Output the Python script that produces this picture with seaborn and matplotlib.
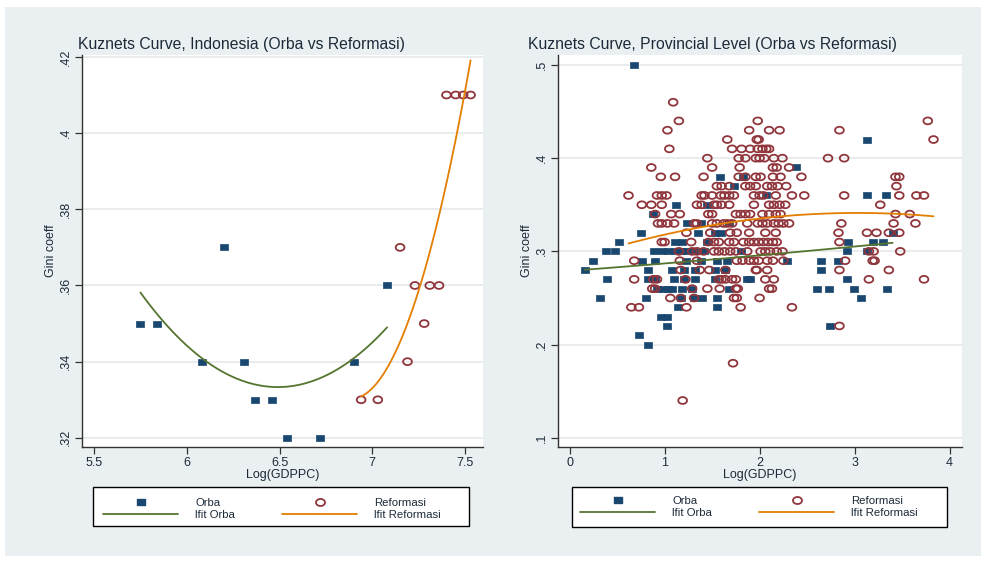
import numpy as np
import pandas as pd
import matplotlib
matplotlib.use("Agg")
import matplotlib.pyplot as plt
from matplotlib.patches import Rectangle
from matplotlib.lines import Line2D
import seaborn as sns

# ---------------- data: national level ----------------
nat_orba_x = [5.75, 5.84, 6.08, 6.20, 6.31, 6.37, 6.46, 6.54, 6.72, 6.90, 7.08]
nat_orba_y = [0.35, 0.35, 0.34, 0.37, 0.34, 0.33, 0.33, 0.32, 0.32, 0.34, 0.36]
nat_ref_x = [6.94, 7.03, 7.15, 7.19, 7.23, 7.28, 7.31, 7.36, 7.40, 7.45, 7.49, 7.53]
nat_ref_y = [0.33, 0.33, 0.37, 0.34, 0.36, 0.35, 0.36, 0.36, 0.41, 0.41, 0.41, 0.41]

# ---------------- data: provincial level (grouped by gini value) ----------------
prov_orba = {
    0.50: [0.68],
    0.42: [3.13],
    0.39: [2.38],
    0.38: [1.58, 1.83],
    0.37: [1.73],
    0.36: [2.07, 3.13, 3.33],
    0.35: [1.12, 1.45],
    0.34: [0.88],
    0.33: [1.24, 1.38, 1.68],
    0.32: [0.75, 1.35, 1.53, 1.59, 3.40],
    0.31: [0.52, 1.11, 1.18, 1.45, 2.93, 3.19, 3.30],
    0.30: [0.38, 0.48, 0.89, 0.97, 1.04, 1.11, 1.18, 1.22, 1.31, 1.41, 1.80, 2.92, 3.13],
    0.29: [0.25, 0.76, 0.90, 1.22, 1.38, 1.55, 1.66, 2.29, 2.65, 2.83],
    0.28: [0.16, 0.83, 1.08, 1.20, 1.32, 1.53, 1.64, 2.65],
    0.27: [0.39, 0.83, 0.90, 1.10, 1.20, 1.32, 1.53, 1.87, 1.90, 2.92],
    0.26: [0.92, 0.98, 1.04, 1.08, 1.18, 1.29, 1.68, 2.60, 2.73, 2.99, 3.34],
    0.25: [0.32, 0.80, 1.17, 1.31, 1.39, 1.55, 3.07],
    0.24: [1.14, 1.55],
    0.23: [0.96, 1.03],
    0.22: [1.03, 2.74],
    0.21: [0.73],
    0.20: [0.83],
}
prov_ref = {
    0.46: [1.09],
    0.44: [1.15, 1.98, 3.77],
    0.43: [1.03, 1.89, 2.10, 2.21, 2.84],
    0.42: [1.66, 1.97, 1.99, 3.83],
    0.41: [1.05, 1.71, 1.81, 1.90, 1.98, 2.03, 2.07, 2.10],
    0.40: [1.45, 1.78, 1.85, 1.96, 2.00, 2.05, 2.15, 2.24, 2.72, 2.89],
    0.39: [0.86, 1.50, 1.79, 2.14, 2.18, 2.31],
    0.38: [0.96, 1.11, 1.41, 1.78, 1.85, 1.96, 2.01, 2.14, 2.22, 2.44, 3.43, 3.47],
    0.37: [1.55, 1.60, 1.68, 1.85, 1.90, 1.96, 2.08, 2.13, 2.19, 2.28, 3.44],
    0.36: [0.62, 0.92, 0.97, 1.02, 1.39, 1.42, 1.50, 1.59, 1.63, 1.68, 1.73, 1.94, 2.00,
           2.04, 2.17, 2.34, 2.47, 2.89, 3.47, 3.65, 3.73],
    0.35: [0.76, 0.86, 0.97, 1.34, 1.39, 1.52, 1.55, 1.60, 1.68, 1.94, 2.10, 2.15, 2.21,
           2.27, 3.27],
    0.34: [0.90, 1.07, 1.16, 1.46, 1.50, 1.75, 1.80, 1.85, 1.90, 2.03, 2.10, 2.17, 2.22,
           3.43, 3.58],
    0.33: [0.93, 0.97, 1.03, 1.10, 1.31, 1.34, 1.50, 1.55, 1.62, 1.66, 1.71, 1.87, 1.98,
           2.03, 2.08, 2.15, 2.20, 2.25, 2.31, 2.86, 3.41, 3.64],
    0.32: [1.23, 1.48, 1.69, 1.76, 1.89, 2.06, 2.17, 2.83, 3.13, 3.23, 3.36, 3.47],
    0.31: [0.97, 1.00, 1.28, 1.46, 1.52, 1.57, 1.68, 1.73, 1.83, 1.89, 1.94, 1.99, 2.04,
           2.09, 2.14, 2.18, 2.84],
    0.30: [1.15, 1.29, 1.34, 1.41, 1.52, 1.57, 1.63, 1.69, 1.75, 1.87, 2.01, 2.06, 2.11,
           2.18, 2.24, 3.15, 3.20, 3.48],
    0.29: [0.68, 1.16, 1.34, 1.76, 1.82, 1.89, 1.94, 1.99, 2.08, 2.14, 2.25, 2.90, 3.19, 3.21],
    0.28: [1.17, 1.37, 1.47, 1.64, 1.96, 1.97, 2.08, 2.84, 3.36],
    0.27: [0.68, 0.88, 0.92, 1.22, 1.57, 1.60, 1.64, 1.71, 1.75, 2.06, 2.15, 3.15, 3.73],
    0.26: [0.87, 0.90, 1.29, 1.45, 1.58, 1.75, 1.77, 2.10, 2.13],
    0.25: [1.06, 1.17, 1.31, 1.73, 1.76, 2.00],
    0.24: [0.65, 0.73, 1.23, 1.80, 2.34],
    0.22: [2.84],
    0.18: [1.72],
    0.14: [1.19],
}

left_xticks = [5.5, 6, 6.5, 7, 7.5]
left_xticklabels = ["5.5", "6", "6.5", "7", "7.5"]
left_yticks = [0.32, 0.34, 0.36, 0.38, 0.40, 0.42]
left_yticklabels = [".32", ".34", ".36", ".38", ".4", ".42"]
right_xticks = [0, 1, 2, 3, 4]
right_xticklabels = ["0", "1", "2", "3", "4"]
right_yticks = [0.1, 0.2, 0.3, 0.4, 0.5]
right_yticklabels = [".1", ".2", ".3", ".4", ".5"]

titles = ["Kuznets Curve, Indonesia (Orba vs Reformasi)",
          "Kuznets Curve, Provincial Level (Orba vs Reformasi)"]
labels = ["Orba", "Reformasi", "lfit Orba", "lfit Reformasi"]


def to_df(d):
    xs, ys = [], []
    for g, xl in d.items():
        for x in xl:
            xs.append(x)
            ys.append(g)
    return pd.DataFrame({"x": xs, "y": ys})


nat_orba = pd.DataFrame({"x": nat_orba_x, "y": nat_orba_y})
nat_ref = pd.DataFrame({"x": nat_ref_x, "y": nat_ref_y})
prov_orba_df = to_df(prov_orba)
prov_ref_df = to_df(prov_ref)

# ---------------- style ----------------
sns.set_style("white")
plt.rcParams["font.family"] = ["Liberation Sans", "DejaVu Sans"]

NAVY = "#1a476f"
MAROON = "#90353b"
GREEN = "#55752f"
ORANGE = "#e37e00"
BG = "#eaf0f2"
TXT = "#1c2a38"

sq_marker = [(-1.0, -0.72), (1.0, -0.72), (1.0, 0.72), (-1.0, 0.72), (-1.0, -0.72)]
t = np.linspace(0, 2 * np.pi, 40)
el_marker = list(zip(np.cos(t), 0.78 * np.sin(t)))

W, H = 987, 561
fig = plt.figure(figsize=(W / 100, H / 100), dpi=100)
fig.patch.set_facecolor("white")
fig.patches.append(Rectangle((5 / W, 1 - 556 / H), 976 / W, 549 / H,
                             transform=fig.transFigure, facecolor=BG,
                             edgecolor="none", zorder=-10))

ax1 = fig.add_axes([82 / W, 1 - 447 / H, (483 - 82) / W, (447 - 55) / H])
ax2 = fig.add_axes([558 / W, 1 - 447 / H, (962 - 558) / W, (447 - 55) / H])

# legend geometry (pixels): box x0, x1, y_top, y_bottom, col1 handle x, col2 handle x, row1 y, row2 y
leg_geom = [
    (93, 469, 487, 526, 103, 282, 503, 514),
    (572, 947, 487, 527, 580, 759, 501, 512),
]

panels = [
    (ax1, nat_orba, nat_ref, (5.435, 7.597), (0.3176, 0.4205),
     left_xticks, left_xticklabels, left_yticks, left_yticklabels),
    (ax2, prov_orba_df, prov_ref_df, (-0.122, 4.13), (0.0901, 0.5107),
     right_xticks, right_xticklabels, right_yticks, right_yticklabels),
]

for k, (ax, dfo, dfr, xl, yl, xt, xtl, yt, ytl) in enumerate(panels):
    ax.set_facecolor("white")
    for yv in yt:
        ax.axhline(yv, color="#e6eaec", lw=1.3, zorder=0)
    sns.scatterplot(data=dfo, x="x", y="y", ax=ax, marker=sq_marker, s=36,
                    color=NAVY, edgecolor=NAVY, linewidth=0.5, zorder=3)
    sns.scatterplot(data=dfr, x="x", y="y", ax=ax, marker=el_marker, s=40,
                    facecolor="none", edgecolor=MAROON, linewidth=1.3, zorder=3)
    sns.regplot(data=dfo, x="x", y="y", ax=ax, order=2, scatter=False, ci=None,
                truncate=True, line_kws=dict(color=GREEN, lw=1.3, zorder=4))
    sns.regplot(data=dfr, x="x", y="y", ax=ax, order=2, scatter=False, ci=None,
                truncate=True, line_kws=dict(color=ORANGE, lw=1.3, zorder=4))
    ax.set_xlim(*xl)
    ax.set_ylim(*yl)
    ax.set_xticks(xt)
    ax.set_xticklabels(xtl)
    ax.set_yticks(yt)
    ax.set_yticklabels(ytl, rotation=90, va="center")
    ax.tick_params(axis="both", direction="out", length=5, width=0.9,
                   color="#333333", labelsize=9, labelcolor=TXT, pad=2, left=True, bottom=True)
    for s in ["top", "right"]:
        ax.spines[s].set_visible(False)
    for s in ["left", "bottom"]:
        ax.spines[s].set_color("#333333")
        ax.spines[s].set_linewidth(1.0)
    ax.set_xlabel("Log(GDPPC)", fontsize=9, color=TXT, labelpad=0)
    ax.set_ylabel("Gini coeff", fontsize=9, color=TXT, labelpad=2)

    bx0, bx1, byt, byb, c1, c2, r1, r2 = leg_geom[k]
    fig.patches.append(Rectangle((bx0 / W, 1 - byb / H), (bx1 - bx0) / W, (byb - byt) / H,
                                 transform=fig.transFigure, facecolor="white",
                                 edgecolor="black", linewidth=1.0, zorder=1))
    col_handles = [
        [Line2D([], [], ls="none", marker=sq_marker, markersize=6, color=NAVY),
         Line2D([], [], color=GREEN, lw=1.3)],
        [Line2D([], [], ls="none", marker=el_marker, markersize=6.5,
                markerfacecolor="none", markeredgecolor=MAROON, markeredgewidth=1.3),
         Line2D([], [], color=ORANGE, lw=1.3)],
    ]
    col_labels = [[labels[0], labels[2]], [labels[1], labels[3]]]
    for hx, hs, ls in zip([c1, c2], col_handles, col_labels):
        leg = fig.legend(hs, ls, loc="center left",
                         bbox_to_anchor=(hx / W, 1 - ((r1 + r2) / 2 + 0.5) / H),
                         bbox_transform=fig.transFigure, frameon=False,
                         fontsize=8.2, handlelength=6.6, handletextpad=1.5,
                         borderpad=0, labelspacing=0.18, borderaxespad=0)
        leg.set_zorder(2)
        for txt in leg.get_texts():
            txt.set_color(TXT)

fig.text(78 / W, 1 - 49 / H, titles[0], fontsize=11.3, color=TXT, ha="left", va="baseline")
fig.text(528 / W, 1 - 49 / H, titles[1], fontsize=11.3, color=TXT, ha="left", va="baseline")

fig.savefig("out.png", dpi=100, facecolor=fig.get_facecolor())
